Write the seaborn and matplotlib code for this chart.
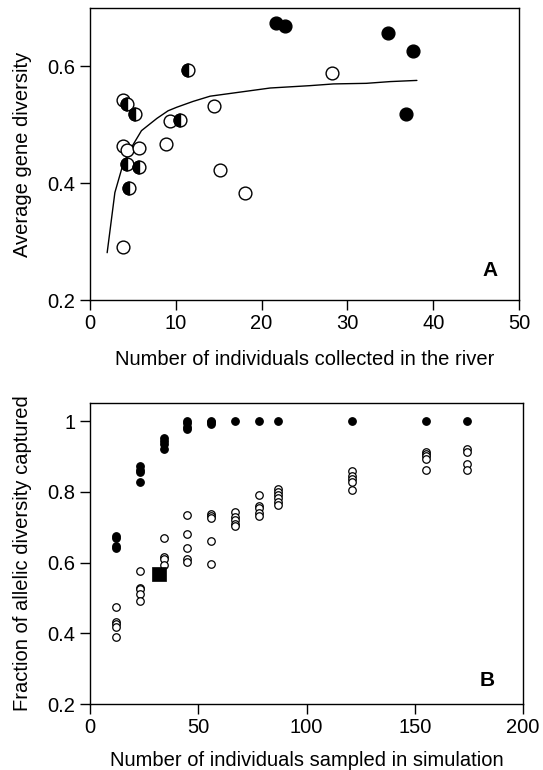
import matplotlib
matplotlib.use("Agg")
import matplotlib.pyplot as plt
import seaborn as sns
import pandas as pd
from matplotlib.markers import MarkerStyle

# ---------------- Panel A data ----------------
a_open_x = [3.8, 3.9, 3.9, 4.3, 5.7, 8.9, 9.3, 14.4, 15.2, 18.1, 28.2]
a_open_y = [0.291, 0.543, 0.464, 0.457, 0.461, 0.467, 0.507, 0.533, 0.422, 0.383, 0.588]
a_half_x = [4.35, 5.3, 4.35, 5.7, 4.5, 10.5, 11.4]
a_half_y = [0.535, 0.519, 0.433, 0.427, 0.391, 0.509, 0.593]
a_fill_x = [21.7, 22.7, 34.7, 37.7, 36.8]
a_fill_y = [0.674, 0.669, 0.657, 0.627, 0.518]
a_curve_x = [2.0, 2.9, 3.8, 4.9, 6.0, 7.8, 9.1, 10.1, 12.0, 14.0, 17.5, 21.0, 25.6, 28.4, 32.2, 35.0, 38.1]
a_curve_y = [0.281, 0.384, 0.430, 0.463, 0.490, 0.511, 0.524, 0.530, 0.540, 0.549, 0.556, 0.563, 0.567, 0.570, 0.571, 0.574, 0.576]

# ---------------- Panel B data ----------------
b_fill_x = [12, 12, 12, 12,
            23, 23, 23, 23,
            34, 34, 34, 34,
            45, 45, 45, 45,
            56, 56, 56,
            67, 78, 87, 121, 155, 174]
b_fill_y = [0.676, 0.668, 0.648, 0.640,
            0.874, 0.863, 0.855, 0.827,
            0.951, 0.943, 0.935, 0.920,
            1.000, 0.996, 0.984, 0.977,
            1.000, 0.998, 0.992,
            1.000, 1.000, 1.000, 1.000, 1.000, 1.000]
b_open_x = [12, 12, 12, 12, 12,
            23, 23, 23, 23, 23,
            34, 34, 34, 34,
            45, 45, 45, 45, 45,
            56, 56, 56, 56, 56,
            67, 67, 67, 67, 67,
            78, 78, 78, 78, 78,
            87, 87, 87, 87, 87, 87,
            121, 121, 121, 121, 121,
            155, 155, 155, 155, 155,
            174, 174, 174, 174]
b_open_y = [0.475, 0.432, 0.425, 0.418, 0.390,
            0.576, 0.529, 0.524, 0.512, 0.491,
            0.668, 0.616, 0.611, 0.593,
            0.734, 0.682, 0.642, 0.611, 0.602,
            0.737, 0.732, 0.727, 0.661, 0.597,
            0.744, 0.729, 0.720, 0.710, 0.703,
            0.791, 0.760, 0.753, 0.741, 0.731,
            0.807, 0.800, 0.792, 0.783, 0.771, 0.762,
            0.859, 0.846, 0.837, 0.827, 0.806,
            0.914, 0.908, 0.900, 0.893, 0.863,
            0.922, 0.914, 0.879, 0.862]
b_square_x = [31.8]
b_square_y = [0.569]

sns.set_theme(style="ticks")
plt.rcParams["font.family"] = ["Liberation Sans", "DejaVu Sans"]
plt.rcParams.update({
    "axes.linewidth": 1.0,
    "xtick.major.width": 1.0,
    "ytick.major.width": 1.0,
    "xtick.major.size": 7,
    "ytick.major.size": 7,
    "xtick.major.pad": 3,
    "ytick.major.pad": 3.5,
    "xtick.labelsize": 14.5,
    "ytick.labelsize": 14.5,
    "axes.labelsize": 14.5,
    "axes.edgecolor": "black",
    "xtick.color": "black",
    "ytick.color": "black",
    "text.color": "black",
    "axes.labelcolor": "black",
})

fig = plt.figure(figsize=(5.43, 7.70), dpi=100)
axA = fig.add_axes([90/543, 1-300/770, (519-90)/543, (300-8)/770])
axB = fig.add_axes([90/543, 1-704/770, (523-90)/543, (704-402.7)/770])

# Panel A
dfc = pd.DataFrame({"x": a_curve_x, "y": a_curve_y})
sns.lineplot(data=dfc, x="x", y="y", ax=axA, color="black", lw=1.0, sort=False, zorder=2)
ms_a = 9.2 ** 2
sns.scatterplot(x=a_open_x, y=a_open_y, ax=axA, s=ms_a, facecolor="white",
                edgecolor="black", linewidth=1.0, zorder=3)
sns.scatterplot(x=a_half_x, y=a_half_y, ax=axA, s=ms_a, facecolor="white",
                edgecolor="black", linewidth=1.0, zorder=3)
sns.scatterplot(x=a_half_x, y=a_half_y, ax=axA, s=ms_a,
                marker=MarkerStyle("o", fillstyle="left"), color="black",
                edgecolor="black", linewidth=1.0, zorder=4)
sns.scatterplot(x=a_fill_x, y=a_fill_y, ax=axA, s=ms_a, color="black",
                edgecolor="black", linewidth=1.0, zorder=3)
axA.set_xlim(0, 50)
axA.set_ylim(0.2, 0.70)
axA.set_xticks([0, 10, 20, 30, 40, 50])
axA.set_yticks([0.2, 0.4, 0.6])
axA.set_yticklabels(["0.2", "0.4", "0.6"])
axA.set_xlabel("Number of individuals collected in the river", labelpad=12)
axA.set_ylabel("Average gene diversity", labelpad=11)
axA.text(0.949, 0.069, "A", transform=axA.transAxes, ha="right", va="bottom",
         fontsize=15, fontweight="bold")

# Panel B
ms_b = 5.4 ** 2
sns.scatterplot(x=b_open_x, y=b_open_y, ax=axB, s=ms_b, facecolor="white",
                edgecolor="black", linewidth=0.9, zorder=3)
sns.scatterplot(x=b_fill_x, y=b_fill_y, ax=axB, s=ms_b, color="black",
                edgecolor="black", linewidth=0.9, zorder=3)
sns.scatterplot(x=b_square_x, y=b_square_y, ax=axB, s=10.5 ** 2, marker="s",
                color="black", edgecolor="black", linewidth=0.5, zorder=4)
axB.set_xlim(0, 200)
axB.set_ylim(0.2, 1.052)
axB.set_xticks([0, 50, 100, 150, 200])
axB.set_yticks([0.2, 0.4, 0.6, 0.8, 1.0])
axB.set_yticklabels(["0.2", "0.4", "0.6", "0.8", "1"])
axB.set_xlabel("Number of individuals sampled in simulation", labelpad=10)
axB.set_ylabel("Fraction of allelic diversity captured", labelpad=11)
axB.text(0.935, 0.046, "B", transform=axB.transAxes, ha="right", va="bottom",
         fontsize=15, fontweight="bold")

for ax in (axA, axB):
    for sp in ax.spines.values():
        sp.set_visible(True)
        sp.set_color("black")
    ax.grid(False)

fig.savefig("out.png", dpi=100)
